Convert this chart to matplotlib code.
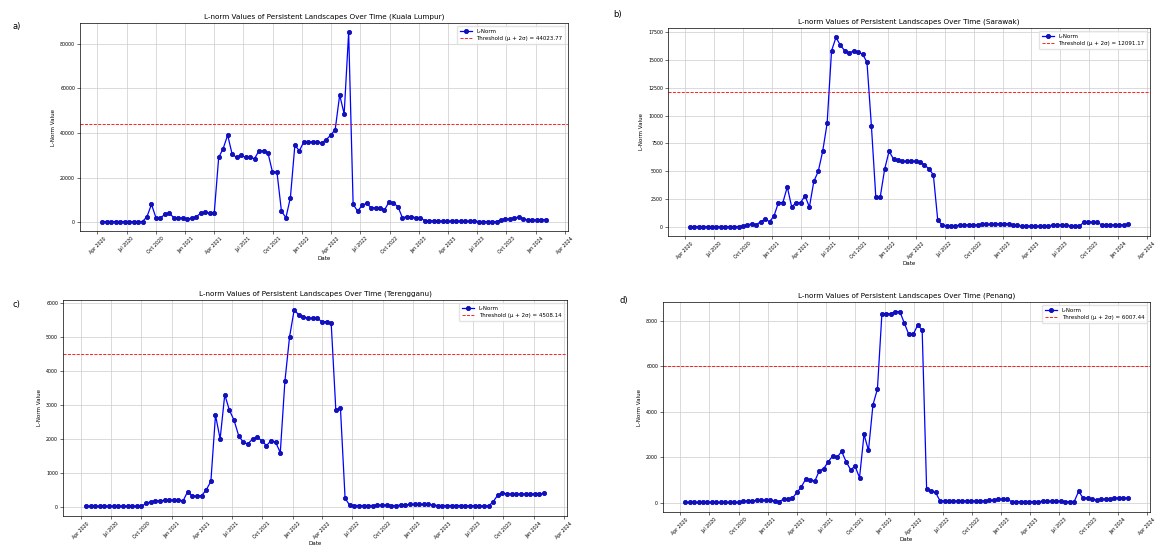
import pandas as pd
import matplotlib
matplotlib.use('Agg')
import matplotlib.pyplot as plt
import matplotlib.dates as mdates

### Biweekly dates shared by all four regions
dates = pd.date_range('2020-04-16', periods=100, freq='14D')

### L-norm values
kuala_lumpur = [300, 300, 300, 300, 300, 300, 300, 300, 300, 300,
                2500, 8000, 2000, 2000, 3500, 4000, 2000, 2000, 1800, 1500,
                1800, 2500, 4000, 4500, 4000, 4000, 29000, 33000, 39000, 30500,
                29000, 30000, 29000, 29000, 28500, 32000, 32000, 31000, 22500, 22500,
                5000, 2000, 11000, 34500, 32000, 36000, 36000, 36000, 36000, 35500,
                37000, 39000, 41500, 57000, 48500, 85000, 8000, 5000, 7500, 8500,
                6500, 6500, 6500, 5500, 9000, 8500, 7000, 2000, 2500, 2500,
                2000, 2000, 700, 700, 600, 500, 500, 500, 500, 500,
                500, 500, 500, 400, 300, 300, 300, 300, 300, 1000,
                1500, 1500, 2000, 2200, 1500, 1000, 1000, 1000, 1100, 1200]

sarawak = [50, 50, 50, 50, 50, 50, 50, 50, 50, 50,
           50, 50, 100, 200, 300, 200, 500, 700, 500, 1000,
           2200, 2200, 3600, 1800, 2200, 2200, 2800, 1800, 4100, 5000,
           6800, 9300, 15800, 17000, 16300, 15800, 15600, 15800, 15700, 15500,
           14800, 9100, 2700, 2700, 5200, 6800, 6100, 6000, 5900, 5900,
           5900, 5900, 5800, 5600, 5200, 4700, 600, 200, 100, 100,
           100, 200, 200, 200, 200, 200, 250, 250, 250, 300,
           300, 300, 300, 150, 150, 80, 80, 80, 80, 80,
           80, 80, 200, 200, 200, 200, 80, 80, 80, 450,
           450, 450, 450, 200, 200, 200, 200, 200, 200, 250]

terengganu = [20, 20, 20, 20, 20, 20, 20, 20, 20, 20,
              20, 20, 20, 100, 150, 180, 180, 190, 200, 200,
              200, 180, 450, 320, 320, 330, 500, 750, 2700, 2000,
              3300, 2850, 2550, 2100, 1900, 1850, 2000, 2050, 1950, 1800,
              1950, 1900, 1600, 3700, 5000, 5800, 5650, 5600, 5550, 5550,
              5550, 5450, 5450, 5400, 2850, 2900, 250, 50, 40, 40,
              40, 40, 40, 50, 50, 50, 40, 40, 50, 60,
              70, 70, 70, 70, 70, 50, 40, 40, 40, 40,
              40, 40, 40, 30, 30, 30, 30, 30, 150, 350,
              400, 380, 380, 380, 380, 380, 380, 380, 380, 400]

penang = [10, 10, 10, 10, 10, 10, 10, 10, 10, 10,
          10, 10, 10, 80, 80, 80, 100, 100, 100, 100,
          80, 50, 150, 150, 200, 450, 700, 1050, 1000, 950,
          1400, 1500, 1800, 2050, 2000, 2250, 1800, 1450, 1600, 1100,
          3000, 2300, 4300, 5000, 8300, 8300, 8300, 8400, 8400, 7900,
          7400, 7400, 7800, 7600, 600, 500, 450, 80, 80, 80,
          80, 80, 80, 80, 80, 80, 80, 80, 100, 100,
          150, 150, 150, 50, 50, 50, 50, 50, 50, 50,
          60, 60, 60, 60, 60, 50, 50, 50, 500, 200,
          200, 150, 120, 150, 150, 150, 200, 200, 200, 200]

regions = ['Kuala Lumpur', 'Sarawak', 'Terengganu', 'Penang']
thresholds = [44023.77, 12091.17, 4508.14, 6007.44]
series = [kuala_lumpur, sarawak, terengganu, penang]
panel_tags = ['a)', 'b)', 'c)', 'd)']

### Axes boxes in pixels: left, top, right, bottom
W, H = 1162, 552
boxes = [(80, 23, 568, 231), (668, 28, 1150, 236),
         (63, 300, 567, 516), (663, 302, 1150, 512)]
tag_pos = [(12, 27), (613, 15), (12, 304), (620, 301)]

fig = plt.figure(figsize=(W / 100, H / 100), dpi=100)

for k in range(4):
    l, t, r, b = boxes[k]
    ax = fig.add_axes([l / W, 1 - b / H, (r - l) / W, (b - t) / H])
    ax.plot(dates, series[k], color='blue', marker='o', markersize=3,
            markerfacecolor='#1a1a80', markeredgecolor='blue', markeredgewidth=0.6,
            linewidth=0.9, label='L-Norm')
    ax.axhline(thresholds[k], color='red', linestyle='--', linewidth=0.6,
               label='Threshold (μ + 2σ) = %.2f' % thresholds[k])
    ax.set_title('L-norm Values of Persistent Landscapes Over Time (%s)' % regions[k],
                 fontsize=5.2, pad=3)
    ax.set_xlabel('Date', fontsize=4, labelpad=1)
    ax.set_ylabel('L-Norm Value', fontsize=4, labelpad=3)
    ax.xaxis.set_major_locator(mdates.MonthLocator(bymonth=[1, 4, 7, 10]))
    ax.xaxis.set_major_formatter(mdates.DateFormatter('%b %Y'))
    ax.tick_params(axis='both', labelsize=3.4, length=2, width=0.4, pad=1.5)
    plt.setp(ax.get_xticklabels(), rotation=45)
    ax.grid(True, color='#cccccc', linewidth=0.5)
    for s in ax.spines.values():
        s.set_linewidth(0.5)
    ax.legend(loc='upper right', fontsize=4, framealpha=0.8, borderpad=0.5,
              handlelength=2.2, edgecolor='#dddddd')
    fig.text(tag_pos[k][0] / W, 1 - tag_pos[k][1] / H, panel_tags[k],
             fontsize=6, va='center')

fig.savefig('out.png', dpi=100)
